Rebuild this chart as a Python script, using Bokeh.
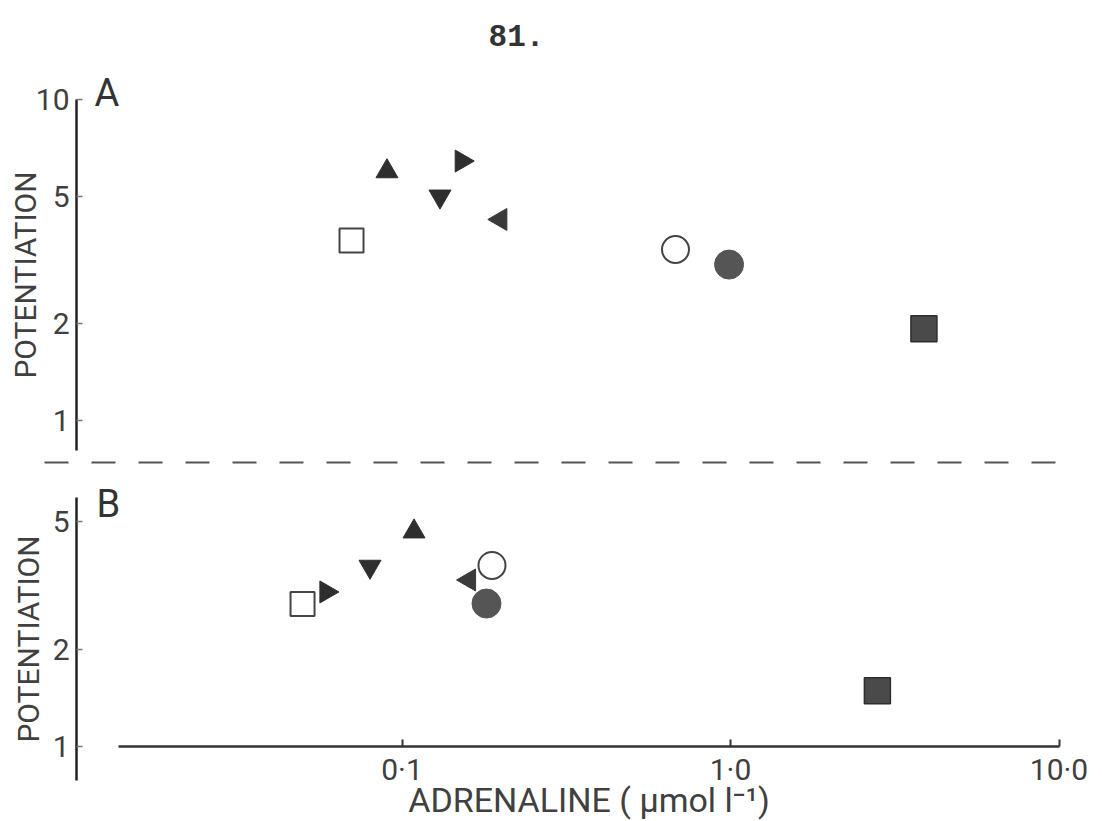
from bokeh.plotting import figure
from bokeh.layouts import column
from bokeh.models import FixedTicker, Label, Range1d
from bokeh.embed import file_html
from bokeh.resources import INLINE

# ---------------- data ----------------
page_number = "81."
panel_labels = ["A", "B"]
y_label = "POTENTIATION"
x_label = "ADRENALINE ( μmol l⁻¹)"

symbols = ["open_square", "up_triangle", "down_triangle", "right_triangle",
           "left_triangle", "open_circle", "filled_circle", "filled_square"]

# Panel A (adrenaline, umol/l ; potentiation)
a_x = [0.0702, 0.0900, 0.1305, 0.1518, 0.1995, 0.680, 0.990, 3.88]
a_y = [3.64, 5.97, 4.99, 6.43, 4.23, 3.41, 3.06, 1.93]

# Panel B
b_x = [0.0498, 0.1088, 0.0799, 0.0588, 0.1602, 0.1879, 0.1808, 2.80]
b_y = [2.77, 4.65, 3.62, 3.02, 3.29, 3.65, 2.78, 1.49]

a_yticks = [1, 2, 5, 10]
b_yticks = [1, 2, 5]
x_ticks = [0.1, 1, 10]
x_tick_labels = ["0·1", "1·0", "10·0"]

# ---------------- styles ----------------
STYLE = {
    "open_square":    dict(marker="square", size=24, angle=0.0, fill_color="white", line_color="#444444", line_width=2),
    "up_triangle":    dict(marker="triangle", size=22, angle=0.0, fill_color="#2e2e2e", line_color="#2e2e2e", line_width=1),
    "down_triangle":  dict(marker="inverted_triangle", size=22, angle=0.0, fill_color="#2e2e2e", line_color="#2e2e2e", line_width=1),
    "right_triangle": dict(marker="triangle", size=22, angle=-1.5708, fill_color="#2e2e2e", line_color="#2e2e2e", line_width=1),
    "left_triangle":  dict(marker="triangle", size=22, angle=1.5708, fill_color="#3a3a3a", line_color="#3a3a3a", line_width=1),
    "open_circle":    dict(marker="circle", size=27, angle=0.0, fill_color="white", line_color="#444444", line_width=2),
    "filled_circle":  dict(marker="circle", size=29, angle=0.0, fill_color="#555555", line_color="#555555", line_width=1),
    "filled_square":  dict(marker="square", size=26, angle=0.0, fill_color="#4a4a4a", line_color="#2e2e2e", line_width=1.5),
}

W = 1102
HA, HB = 470, 351
AXIS_X_PX = 76

def x_at(px):
    return 10 ** ((px - 730) / 328.5)

def ya_at(py):
    return 10 ** ((420 - py) / 321.0)

def yb_at(py):
    return 10 ** ((276 - py) / 322.0)

SANS = "Roboto"
TXT = "#404040"


def style_y_axis(ax, ticks, bounds, label_standoff):
    ax.fixed_location = x_at(AXIS_X_PX)
    ax.bounds = bounds
    ax.ticker = FixedTicker(ticks=ticks)
    ax.major_label_overrides = {t: str(t) for t in ticks}
    ax.minor_tick_line_color = None
    ax.major_tick_in = 6
    ax.major_tick_out = 0
    ax.major_tick_line_color = "#777777"
    ax.major_tick_line_width = 1.5
    ax.axis_line_color = "#222222"
    ax.axis_line_width = 2.5
    ax.major_label_text_font = SANS
    ax.major_label_text_font_size = "30px"
    ax.major_label_text_color = TXT
    ax.major_label_standoff = 7
    ax.axis_label = y_label
    ax.axis_label_text_font = SANS
    ax.axis_label_text_font_size = "30px"
    ax.axis_label_text_font_style = "normal"
    ax.axis_label_text_color = TXT
    ax.axis_label_standoff = label_standoff


def make_fig(h, y_range, with_x):
    p = figure(width=W, height=h, x_axis_type="log", y_axis_type="log",
               x_range=Range1d(x_at(0), x_at(W)), y_range=y_range,
               x_axis_location="below" if with_x else None, y_axis_location="left",
               min_border_left=0, min_border_right=0,
               min_border_top=0, min_border_bottom=0,
               toolbar_location=None, output_backend="svg")
    p.outline_line_color = None
    p.grid.visible = False
    p.background_fill_color = "white"
    p.border_fill_color = "white"
    return p


def add_points(p, xs, ys):
    for s, x, y in zip(symbols, xs, ys):
        st = STYLE[s]
        p.scatter(x=[x], y=[y], marker=st["marker"], size=st["size"], angle=st["angle"],
                  fill_color=st["fill_color"], line_color=st["line_color"],
                  line_width=st["line_width"])


# ---------------- panel A ----------------
pA = make_fig(HA, Range1d(ya_at(HA), ya_at(0)), False)
style_y_axis(pA.yaxis[0], a_yticks, (ya_at(450), 10), -10)
# dashed separator between panels
pA.segment(x0=[x_at(44)], x1=[x_at(1068)], y0=[ya_at(462)], y1=[ya_at(462)],
           line_dash="24 23", line_color="#555555", line_width=2)
add_points(pA, a_x, a_y)
pA.add_layout(Label(x=x_at(516), y=ya_at(35), text=page_number, text_align="center",
                    text_baseline="alphabetic", text_font="Liberation Mono",
                    text_font_style="bold", text_font_size="31px", text_color="#333333"))
pA.add_layout(Label(x=x_at(94), y=ya_at(92), text=panel_labels[0], text_align="left",
                    text_baseline="alphabetic", text_font=SANS,
                    text_font_size="38px", text_color="#333333"))

# ---------------- panel B ----------------
pB = make_fig(HB, Range1d(yb_at(HB), yb_at(0)), True)
style_y_axis(pB.yaxis[0], b_yticks, (yb_at(310), yb_at(27)), 4)
xb = pB.xaxis[0]
xb.fixed_location = 1
xb.bounds = (x_at(118), 10)
xb.ticker = FixedTicker(ticks=x_ticks)
xb.major_label_overrides = dict(zip(x_ticks, x_tick_labels))
xb.minor_tick_line_color = None
xb.major_tick_in = 7
xb.major_tick_out = 0
xb.major_tick_line_color = "#333333"
xb.major_tick_line_width = 2
xb.axis_line_color = "#333333"
xb.axis_line_width = 2.5
xb.major_label_text_font = SANS
xb.major_label_text_font_size = "30px"
xb.major_label_text_color = TXT
xb.major_label_standoff = 5
xb.axis_label = x_label
xb.axis_label_text_font = SANS
xb.axis_label_text_font_size = "34px"
xb.axis_label_text_font_style = "normal"
xb.axis_label_text_color = TXT
xb.axis_label_standoff = -10
add_points(pB, b_x, b_y)
pB.add_layout(Label(x=x_at(96), y=yb_at(33), text=panel_labels[1], text_align="left",
                    text_baseline="alphabetic", text_font=SANS,
                    text_font_size="38px", text_color="#333333"))

layout = column(pA, pB, spacing=0)
open("out.html", "w").write(file_html(layout, INLINE))
